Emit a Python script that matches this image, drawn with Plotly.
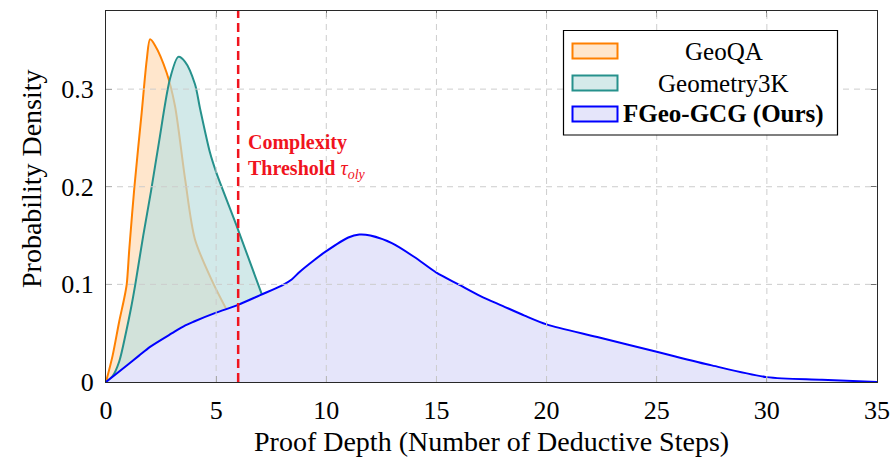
import plotly.graph_objects as go

# ---------------- data ----------------
geoqa_x = [0, 0.3, 0.6, 0.83, 0.94, 1.06, 1.29, 1.62, 1.85, 2.0, 2.22, 2.75, 3.13, 3.59, 4.04, 4.87, 5.5]
geoqa_y = [0, 0.027, 0.062, 0.086, 0.1, 0.137, 0.2, 0.276, 0.33, 0.351, 0.345, 0.317, 0.283, 0.208, 0.146, 0.101, 0.073]

geo3k_x = [0, 0.3, 0.6, 0.91, 1.13, 1.33, 1.69, 2.04, 2.4, 2.9, 3.28, 3.59, 4.04, 4.27, 4.72, 5.0, 5.93, 7.07]
geo3k_y = [0, 0.006, 0.021, 0.051, 0.075, 0.1, 0.15, 0.195, 0.245, 0.31, 0.333, 0.328, 0.305, 0.28, 0.235, 0.215, 0.16, 0.09]

fgeo_x = [0, 1, 1.5, 2, 3, 3.6, 4, 5, 6, 7, 8, 8.43, 8.8, 9.4, 10, 11, 11.5, 12, 13, 14, 15, 16, 17, 18, 19, 20, 22.3, 25, 27.5, 30, 32.5, 35]
fgeo_y = [0, 0.018, 0.027, 0.036, 0.05, 0.058, 0.062, 0.071, 0.079, 0.089, 0.099, 0.105, 0.113, 0.124, 0.134, 0.148, 0.151, 0.15, 0.142, 0.128, 0.112, 0.1, 0.088, 0.078, 0.068, 0.059, 0.046, 0.031, 0.017, 0.005, 0.0024, 0]

series_names = ["GeoQA", "Geometry3K", "<b>FGeo-GCG (Ours)</b>"]
threshold_x = 6
x_ticks = [0, 5, 10, 15, 20, 25, 30, 35]
y_ticks = [0, 0.1, 0.2, 0.3]
y_tick_labels = ["0", "0.1", "0.2", "0.3"]
x_title = "Proof Depth (Number of Deductive Steps)"
y_title = "Probability Density"

# ---------------- styles ----------------
ORANGE = "rgb(255,128,0)"
ORANGE_FILL = "rgb(255,230,204)"
TEAL = "rgb(38,145,140)"
TEAL_FILL = "rgba(191,223,223,0.7)"
BLUE = "rgb(0,0,255)"
BLUE_FILL = "rgb(229,229,250)"
FONT = "Liberation Serif, serif"

W, H = 893, 457
PL, PR, PT, PB = 106, 877, 11, 382


def px_x(p):
    return (p - PL) / (PR - PL)


def px_y(p):
    return (PB - p) / (PB - PT)


fig = go.Figure()
for xs, ys, lc, fc in [(geoqa_x, geoqa_y, ORANGE, ORANGE_FILL),
                       (geo3k_x, geo3k_y, TEAL, TEAL_FILL),
                       (fgeo_x, fgeo_y, BLUE, BLUE_FILL)]:
    fig.add_trace(go.Scatter(x=xs, y=ys, mode="lines", fill="tozeroy",
                             fillcolor=fc, line=dict(color=lc, width=2, shape="spline", smoothing=0.8),
                             showlegend=False, hoverinfo="skip"))

shapes = []
# grid (drawn on top like pgfplots 'axis on top')
for xv in x_ticks[1:-1]:
    shapes.append(dict(type="line", xref="x", yref="paper", x0=xv, x1=xv, y0=0, y1=1,
                       line=dict(color="rgb(205,205,205)", width=1, dash="6px,5px"), layer="above"))
for yv in y_ticks[1:]:
    shapes.append(dict(type="line", xref="paper", yref="y", x0=0, x1=1, y0=yv, y1=yv,
                       line=dict(color="rgb(205,205,205)", width=1, dash="6px,5px"), layer="above"))
# threshold line
shapes.append(dict(type="line", xref="x", yref="paper", x0=threshold_x, x1=threshold_x, y0=0, y1=1,
                   line=dict(color="rgb(240,20,30)", width=2.5, dash="9px,5px"), layer="above"))

# manual legend (centered text like pgfplots)
shapes.append(dict(type="rect", xref="paper", yref="paper",
                   x0=px_x(563.5), x1=px_x(837.5), y0=px_y(135), y1=px_y(30.5),
                   line=dict(color="black", width=1.2), fillcolor="white", layer="above"))
legend_rows = [(51, ORANGE, ORANGE_FILL), (83, TEAL, "rgb(213,234,234)"), (114, BLUE, BLUE_FILL)]
annotations = []
for (cy, lc, fc), name in zip(legend_rows, series_names):
    shapes.append(dict(type="rect", xref="paper", yref="paper",
                       x0=px_x(572.5), x1=px_x(617.5), y0=px_y(cy + 7.5), y1=px_y(cy - 7.5),
                       line=dict(color=lc, width=2), fillcolor=fc, layer="above"))
    annotations.append(dict(xref="paper", yref="paper", x=px_x(723.5), y=px_y(cy),
                            text=name, showarrow=False, xanchor="center", yanchor="middle",
                            font=dict(family=FONT, size=25, color="black")))

annotations.append(dict(xref="x", yref="y", x=threshold_x + 0.35, y=0.231,
                        text="<b>Complexity<br>Threshold</b> <i>τ<sub>oly</sub></i>",
                        showarrow=False, xanchor="left", yanchor="middle", align="left",
                        font=dict(family=FONT, size=20, color="rgb(240,20,30)")))

# axis titles
annotations.append(dict(xref="paper", yref="paper", x=0.5, y=px_y(441), text=x_title,
                        showarrow=False, xanchor="center", yanchor="middle",
                        font=dict(family=FONT, size=28, color="black")))
annotations.append(dict(xref="paper", yref="paper", x=px_x(31), y=px_y(179), text=y_title,
                        textangle=-90, showarrow=False, xanchor="center", yanchor="middle",
                        font=dict(family=FONT, size=28, color="black")))

axis_common = dict(showline=True, linecolor="rgb(40,40,40)", linewidth=1.2, mirror="allticks",
                   ticks="inside", ticklen=6, tickwidth=1, tickcolor="rgb(110,110,110)",
                   showgrid=False, zeroline=False, automargin=False,
                   tickfont=dict(family=FONT, size=26, color="black"))

fig.update_layout(
    width=W, height=H,
    margin=dict(l=PL, r=W - PR, t=PT, b=H - PB),
    plot_bgcolor="white", paper_bgcolor="white",
    xaxis=dict(range=[0, 35], tickvals=x_ticks, ticktext=[str(v) for v in x_ticks],
               ticklabelstandoff=5, **axis_common),
    yaxis=dict(range=[0, 0.38], tickvals=y_ticks, ticktext=y_tick_labels,
               ticklabelstandoff=6, **axis_common),
    shapes=shapes,
    annotations=annotations,
)

fig.write_html("out.html")
